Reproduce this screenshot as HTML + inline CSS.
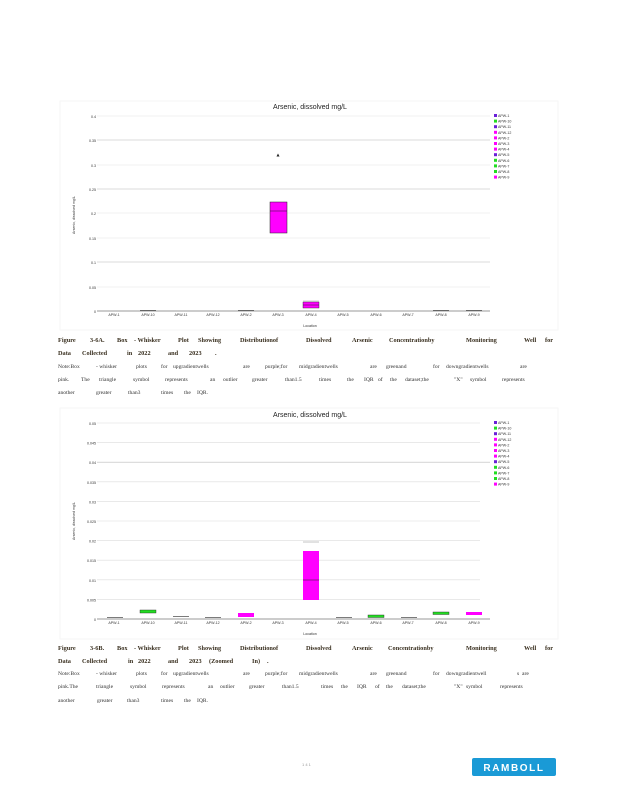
<!DOCTYPE html>
<html><head><meta charset="utf-8"><style>
html,body{margin:0;padding:0;background:#fff;}
svg{display:block}
.c{font-family:"Liberation Serif",serif;font-size:6.3px;font-weight:bold;fill:#3a3020}
.n{font-family:"Liberation Serif",serif;font-size:5.6px;fill:#333}
.t{font-family:"Liberation Sans",sans-serif;font-size:7px;fill:#222}
.s{font-family:"Liberation Sans",sans-serif;font-size:3.6px;fill:#333}
</style></head><body>
<svg width="618" height="800" viewBox="0 0 618 800" xmlns="http://www.w3.org/2000/svg">
<rect width="618" height="800" fill="#fff"/>
<!-- Chart 1 -->
<rect x="60" y="101" width="498" height="229" fill="none" stroke="#f6f6f6"/>
<text class="t" x="310" y="109" text-anchor="middle">Arsenic, dissolved mg/L</text>
<g stroke="#e6e6e6" stroke-width="0.6">
<line x1="97" x2="490" y1="116" y2="116"/><line x1="97" x2="490" y1="165" y2="165"/><line x1="97" x2="490" y1="213" y2="213"/><line x1="97" x2="490" y1="238" y2="238"/><line x1="97" x2="490" y1="287" y2="287"/>
</g>
<g stroke="#cfcfcf" stroke-width="0.7">
<line x1="97" x2="490" y1="140" y2="140"/><line x1="97" x2="490" y1="189" y2="189"/><line x1="97" x2="490" y1="262" y2="262"/>
</g>
<line x1="97" x2="490" y1="311" y2="311" stroke="#333" stroke-width="0.6"/>
<g class="s" text-anchor="end">
<text x="96" y="118">0.4</text><text x="96" y="142">0.35</text><text x="96" y="167">0.3</text><text x="96" y="191">0.25</text><text x="96" y="215">0.2</text><text x="96" y="240">0.15</text><text x="96" y="264">0.1</text><text x="96" y="289">0.05</text><text x="96" y="313">0</text>
</g>
<text class="s" transform="translate(75,215) rotate(-90)" text-anchor="middle">Arsenic, dissolved mg/L</text>
<text class="s" x="310" y="327" text-anchor="middle">Location</text>
<g class="s" text-anchor="middle">
<text x="114" y="316">APW-1</text><text x="148" y="316">APW-10</text><text x="181" y="316">APW-11</text><text x="213" y="316">APW-12</text><text x="246" y="316">APW-2</text><text x="278" y="316">APW-3</text><text x="311" y="316">APW-4</text><text x="343" y="316">APW-5</text><text x="376" y="316">APW-6</text><text x="408" y="316">APW-7</text><text x="441" y="316">APW-8</text><text x="474" y="316">APW-9</text>
</g>
<g stroke="#222" stroke-width="0.6">
<line x1="140" x2="156" y1="310.5" y2="310.5"/><line x1="238" x2="254" y1="310.5" y2="310.5"/><line x1="433" x2="449" y1="310.5" y2="310.5"/><line x1="466" x2="482" y1="310.5" y2="310.5"/>
</g>
<rect x="270" y="202" width="17" height="31" fill="#f0f" stroke="#222" stroke-width="0.5"/>
<line x1="270" x2="287" y1="211" y2="211" stroke="#222" stroke-width="0.5"/>
<polygon points="278,153.5 276.5,156.5 279.5,156.5" fill="#222"/>
<rect x="303" y="302" width="16" height="6" fill="#f0f" stroke="#222" stroke-width="0.4"/>
<line x1="303" x2="319" y1="305" y2="305" stroke="#222" stroke-width="0.5"/>
<line x1="303" x2="319" y1="301" y2="301" stroke="#888" stroke-width="0.4"/>
<g>
<rect x="494" y="114" width="3" height="3" fill="#6a1fd8"/><rect x="494" y="119.6" width="3" height="3" fill="#22dd22"/><rect x="494" y="125.2" width="3" height="3" fill="#6a1fd8"/><rect x="494" y="130.8" width="3" height="3" fill="#f0f"/><rect x="494" y="136.4" width="3" height="3" fill="#f0f"/><rect x="494" y="142" width="3" height="3" fill="#f0f"/><rect x="494" y="147.6" width="3" height="3" fill="#f0f"/><rect x="494" y="153.2" width="3" height="3" fill="#6a1fd8"/><rect x="494" y="158.8" width="3" height="3" fill="#22dd22"/><rect x="494" y="164.4" width="3" height="3" fill="#22dd22"/><rect x="494" y="170" width="3" height="3" fill="#22dd22"/><rect x="494" y="175.6" width="3" height="3" fill="#f0f"/>
</g>
<g class="s">
<text x="498" y="117">APW-1</text><text x="498" y="122.6">APW-10</text><text x="498" y="128.2">APW-11</text><text x="498" y="133.8">APW-12</text><text x="498" y="139.4">APW-2</text><text x="498" y="145">APW-3</text><text x="498" y="150.6">APW-4</text><text x="498" y="156.2">APW-5</text><text x="498" y="161.8">APW-6</text><text x="498" y="167.4">APW-7</text><text x="498" y="173">APW-8</text><text x="498" y="178.6">APW-9</text>
</g>
<!-- Caption 1 -->
<g class="c">
<text x="58" y="342">Figure</text><text x="90" y="342">3-6A.</text><text x="117" y="342">Box</text><text x="134" y="342">- Whisker</text><text x="178" y="342">Plot</text><text x="198" y="342">Showing</text><text x="240" y="342">Distributionof</text><text x="306" y="342">Dissolved</text><text x="352" y="342">Arsenic</text><text x="389" y="342">Concentrationby</text><text x="466" y="342">Monitoring</text><text x="524" y="342">Well</text><text x="545" y="342">for</text>
<text x="58" y="355">Data</text><text x="82" y="355">Collected</text><text x="127" y="355">in</text><text x="138" y="355">2022</text><text x="168" y="355">and</text><text x="189" y="355">2023</text><text x="215" y="355">.</text>
</g>
<g class="n">
<text x="58" y="368">Note:Box</text><text x="96" y="368">- whisker</text><text x="136" y="368">plots</text><text x="161" y="368">for</text><text x="173" y="368">upgradientwells</text><text x="243" y="368">are</text><text x="265" y="368">purple;for</text><text x="299" y="368">midgradientwells</text><text x="370" y="368">are</text><text x="386" y="368">greenand</text><text x="433" y="368">for</text><text x="446" y="368">downgradientwells</text><text x="520" y="368">are</text>
<text x="58" y="381">pink.</text><text x="81" y="381">The</text><text x="99" y="381">triangle</text><text x="133" y="381">symbol</text><text x="165" y="381">represents</text><text x="210" y="381">an</text><text x="223" y="381">outlier</text><text x="252" y="381">greater</text><text x="285" y="381">than1.5</text><text x="319" y="381">times</text><text x="347" y="381">the</text><text x="364" y="381">IQR</text><text x="378" y="381">of</text><text x="390" y="381">the</text><text x="405" y="381">dataset;the</text><text x="454" y="381">"X"</text><text x="470" y="381">symbol</text><text x="502" y="381">represents</text>
<text x="58" y="394">another</text><text x="96" y="394">greater</text><text x="128" y="394">than3</text><text x="161" y="394">times</text><text x="184" y="394">the</text><text x="197" y="394">IQR.</text>
</g>
<!-- Chart 2 -->
<rect x="60" y="408" width="498" height="231" fill="none" stroke="#f6f6f6"/>
<text class="t" x="310" y="417" text-anchor="middle">Arsenic, dissolved mg/L</text>
<g stroke="#dcdcdc" stroke-width="0.6">
<line x1="97" x2="480" y1="423" y2="423"/><line x1="97" x2="480" y1="442.6" y2="442.6"/><line x1="97" x2="490" y1="462.2" y2="462.2" stroke="#bbb"/><line x1="97" x2="480" y1="481.8" y2="481.8"/><line x1="97" x2="480" y1="501.4" y2="501.4"/><line x1="97" x2="480" y1="521" y2="521"/><line x1="97" x2="480" y1="540.6" y2="540.6"/><line x1="97" x2="480" y1="560.2" y2="560.2"/><line x1="97" x2="480" y1="579.8" y2="579.8"/><line x1="97" x2="480" y1="599.4" y2="599.4"/>
</g>
<line x1="97" x2="490" y1="619" y2="619" stroke="#333" stroke-width="0.6"/>
<g class="s" text-anchor="end">
<text x="96" y="425">0.05</text><text x="96" y="444.6">0.045</text><text x="96" y="464.2">0.04</text><text x="96" y="483.8">0.035</text><text x="96" y="503.4">0.03</text><text x="96" y="523">0.025</text><text x="96" y="542.6">0.02</text><text x="96" y="562.2">0.015</text><text x="96" y="581.8">0.01</text><text x="96" y="601.4">0.005</text><text x="96" y="621">0</text>
</g>
<text class="s" transform="translate(75,521) rotate(-90)" text-anchor="middle">Arsenic, dissolved mg/L</text>
<text class="s" x="310" y="635" text-anchor="middle">Location</text>
<g class="s" text-anchor="middle">
<text x="114" y="624">APW-1</text><text x="148" y="624">APW-10</text><text x="181" y="624">APW-11</text><text x="213" y="624">APW-12</text><text x="246" y="624">APW-2</text><text x="278" y="624">APW-3</text><text x="311" y="624">APW-4</text><text x="343" y="624">APW-5</text><text x="376" y="624">APW-6</text><text x="408" y="624">APW-7</text><text x="441" y="624">APW-8</text><text x="474" y="624">APW-9</text>
</g>
<g stroke="#222" stroke-width="0.6">
<line x1="107" x2="123" y1="617.5" y2="617.5"/><line x1="173" x2="189" y1="616.5" y2="616.5"/><line x1="205" x2="221" y1="617.5" y2="617.5"/><line x1="336" x2="352" y1="617.5" y2="617.5"/><line x1="401" x2="417" y1="617.5" y2="617.5"/>
</g>
<rect x="140" y="610" width="16" height="3" fill="#22dd22" stroke="#222" stroke-width="0.4"/>
<rect x="238" y="613" width="16" height="4" fill="#f0f"/>
<rect x="368" y="615" width="16" height="2.5" fill="#22dd22" stroke="#222" stroke-width="0.4"/>
<rect x="433" y="612" width="16" height="2.5" fill="#22dd22" stroke="#222" stroke-width="0.4"/>
<rect x="466" y="612" width="16" height="3" fill="#f0f"/>
<rect x="303" y="551" width="16" height="49" fill="#f0f"/>
<line x1="303" x2="319" y1="580" y2="580" stroke="#222" stroke-width="0.5"/>
<line x1="303" x2="319" y1="542" y2="542" stroke="#888" stroke-width="0.5"/>
<g>
<rect x="494" y="421" width="3" height="3" fill="#6a1fd8"/><rect x="494" y="426.6" width="3" height="3" fill="#22dd22"/><rect x="494" y="432.2" width="3" height="3" fill="#6a1fd8"/><rect x="494" y="437.8" width="3" height="3" fill="#f0f"/><rect x="494" y="443.4" width="3" height="3" fill="#f0f"/><rect x="494" y="449" width="3" height="3" fill="#f0f"/><rect x="494" y="454.6" width="3" height="3" fill="#f0f"/><rect x="494" y="460.2" width="3" height="3" fill="#6a1fd8"/><rect x="494" y="465.8" width="3" height="3" fill="#22dd22"/><rect x="494" y="471.4" width="3" height="3" fill="#22dd22"/><rect x="494" y="477" width="3" height="3" fill="#22dd22"/><rect x="494" y="482.6" width="3" height="3" fill="#f0f"/>
</g>
<g class="s">
<text x="498" y="424">APW-1</text><text x="498" y="429.6">APW-10</text><text x="498" y="435.2">APW-11</text><text x="498" y="440.8">APW-12</text><text x="498" y="446.4">APW-2</text><text x="498" y="452">APW-3</text><text x="498" y="457.6">APW-4</text><text x="498" y="463.2">APW-5</text><text x="498" y="468.8">APW-6</text><text x="498" y="474.4">APW-7</text><text x="498" y="480">APW-8</text><text x="498" y="485.6">APW-9</text>
</g>
<!-- Caption 2 -->
<g class="c">
<text x="58" y="650">Figure</text><text x="90" y="650">3-6B.</text><text x="117" y="650">Box</text><text x="134" y="650">- Whisker</text><text x="178" y="650">Plot</text><text x="198" y="650">Showing</text><text x="240" y="650">Distributionof</text><text x="306" y="650">Dissolved</text><text x="352" y="650">Arsenic</text><text x="388" y="650">Concentrationby</text><text x="466" y="650">Monitoring</text><text x="524" y="650">Well</text><text x="545" y="650">for</text>
<text x="58" y="663">Data</text><text x="82" y="663">Collected</text><text x="128" y="663">in</text><text x="138" y="663">2022</text><text x="168" y="663">and</text><text x="189" y="663">2023</text><text x="209" y="663">(Zoomed</text><text x="252" y="663">In)</text><text x="267" y="663">.</text>
</g>
<g class="n">
<text x="58" y="675">Note:Box</text><text x="96" y="675">- whisker</text><text x="136" y="675">plots</text><text x="161" y="675">for</text><text x="173" y="675">upgradientwells</text><text x="243" y="675">are</text><text x="265" y="675">purple;for</text><text x="299" y="675">midgradientwells</text><text x="370" y="675">are</text><text x="386" y="675">greenand</text><text x="433" y="675">for</text><text x="446" y="675">downgradientwell</text><text x="517" y="675">s</text><text x="522" y="675">are</text>
<text x="58" y="688">pink.The</text><text x="96" y="688">triangle</text><text x="130" y="688">symbol</text><text x="162" y="688">represents</text><text x="208" y="688">an</text><text x="220" y="688">outlier</text><text x="249" y="688">greater</text><text x="282" y="688">than1.5</text><text x="321" y="688">times</text><text x="341" y="688">the</text><text x="357" y="688">IQR</text><text x="375" y="688">of</text><text x="386" y="688">the</text><text x="402" y="688">dataset;the</text><text x="454" y="688">"X"</text><text x="466" y="688">symbol</text><text x="500" y="688">represents</text>
<text x="58" y="702">another</text><text x="97" y="702">greater</text><text x="127" y="702">than3</text><text x="161" y="702">times</text><text x="184" y="702">the</text><text x="197" y="702">IQR.</text>
</g>
<!-- Footer -->
<text x="302" y="766" font-family="Liberation Sans" font-size="4" fill="#999">1 4 1</text>
<rect x="472" y="758" width="84" height="18" rx="2" fill="#1a9ad6"/>
<text x="514" y="771" text-anchor="middle" font-family="Liberation Sans" font-weight="bold" font-size="10" letter-spacing="1.6" fill="#fff">RAMBOLL</text>
</svg>
</body></html>
